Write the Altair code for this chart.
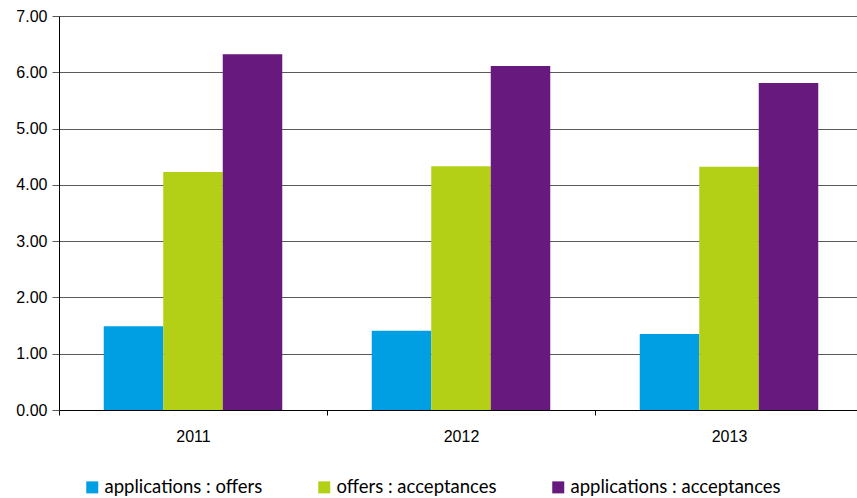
import altair as alt
import pandas as pd

years = ["2011", "2012", "2013"]
series = ["applications : offers", "offers : acceptances", "applications : acceptances"]
colors = ["#009FE3", "#B4D016", "#68197D"]
values = {
    "applications : offers": [1.49, 1.41, 1.35],
    "offers : acceptances": [4.23, 4.33, 4.32],
    "applications : acceptances": [6.32, 6.11, 5.81],
}
y_ticks = [0, 1, 2, 3, 4, 5, 6, 7]

rows = []
for s in series:
    for yr, v in zip(years, values[s]):
        rows.append({"year": yr, "series": s, "value": v})
df = pd.DataFrame(rows)

chart = alt.Chart(df).mark_bar().encode(
    x=alt.X("year:N", sort=years, title=None,
            scale=alt.Scale(paddingInner=0, paddingOuter=0, range=[0, 804]),
            axis=alt.Axis(labelAngle=0, tickBand="extent", ticks=True, tickSize=5,
                          tickColor="#000000", domainColor="#000000", domainWidth=1,
                          labelFont="Liberation Sans", labelFontSize=16, labelColor="#000000",
                          labelPadding=13, grid=False)),
    xOffset=alt.XOffset("series:N", sort=series,
                        scale=alt.Scale(paddingInner=0, paddingOuter=0.752)),
    y=alt.Y("value:Q", title=None,
            scale=alt.Scale(domain=[0, 7], nice=False),
            axis=alt.Axis(values=y_ticks, format=".2f", grid=True, gridColor="#5a5a5a",
                          gridWidth=1, tickColor="#5a5a5a", tickSize=7, domainColor="#000000",
                          labelFont="Liberation Sans", labelFontSize=16, labelColor="#000000",
                          labelPadding=5)),
    color=alt.Color("series:N", sort=series,
                    scale=alt.Scale(domain=series, range=colors),
                    legend=alt.Legend(title=None, orient="none", legendX=24, legendY=462,
                                      direction="horizontal", columns=3, columnPadding=52,
                                      symbolType="square", symbolSize=144, symbolStrokeWidth=0,
                                      symbolOffset=0, labelOffset=3,
                                      labelFont="Lato", labelFontSize=18.5,
                                      labelColor="#000000", labelLimit=400)),
).properties(
    width=798, height=394,
    autosize=alt.AutoSizeParams(type="none"),
    padding={"left": 59, "top": 16, "right": 0, "bottom": 88},
).configure_view(stroke=None).configure(background="#ffffff")

chart.save("out.html", embed_options={"renderer": "svg", "actions": False})
